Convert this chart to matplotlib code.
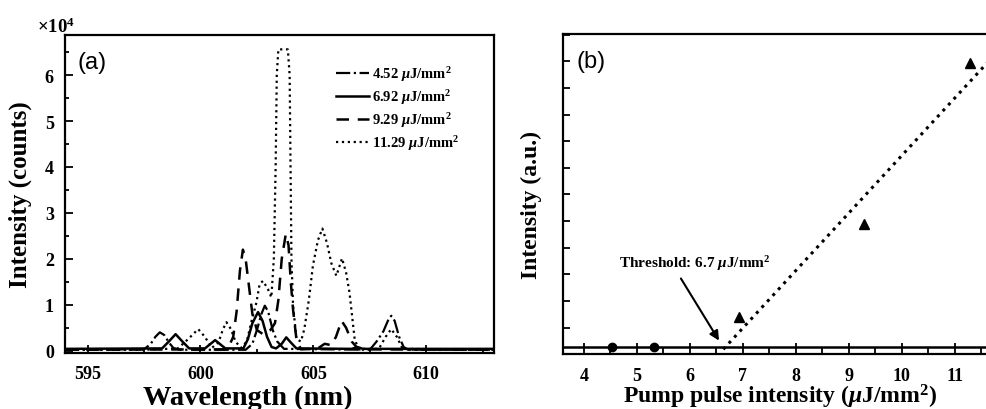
import matplotlib
matplotlib.use("Agg")
import matplotlib.pyplot as plt
from matplotlib.ticker import MultipleLocator, FixedLocator, NullFormatter

plt.rcParams['font.family'] = 'Liberation Serif'
plt.rcParams['font.weight'] = 'bold'
plt.rcParams['axes.labelweight'] = 'bold'
plt.rcParams['mathtext.fontset'] = 'custom'
plt.rcParams['mathtext.rm'] = 'Liberation Serif:bold'
plt.rcParams['mathtext.it'] = 'Liberation Serif:italic:bold'
plt.rcParams['mathtext.bf'] = 'Liberation Serif:bold'

# ---- panel (a): emission spectra, intensity in units of 1e4 counts ----
wl_452 = [594, 597.5, 597.8, 598.0, 598.2, 598.4, 598.6, 598.8, 599.1, 602.0, 602.3,
          602.5, 602.7, 602.85, 603.0, 603.2, 603.4, 603.7, 607.5, 607.8, 608.1, 608.3,
          608.45, 608.6, 608.8, 609.0, 609.2, 613]
int_452 = [0.02, 0.03, 0.15, 0.3, 0.4, 0.34, 0.18, 0.06, 0.02, 0.02, 0.15,
           0.45, 0.8, 0.98, 0.85, 0.45, 0.2, 0.04, 0.02, 0.2, 0.42, 0.65,
           0.76, 0.65, 0.3, 0.08, 0.02, 0.02]

wl_692 = [594, 598.3, 598.6, 598.9, 599.2, 599.5, 600.2, 600.45, 600.65, 600.85, 601.1,
          601.9, 602.1, 602.3, 602.55, 602.75, 602.95, 603.15, 603.35, 603.6, 603.8,
          604.0, 604.25, 606.7, 606.95, 607.2, 613]
int_692 = [0.04, 0.05, 0.2, 0.36, 0.2, 0.05, 0.05, 0.15, 0.23, 0.15, 0.05,
           0.05, 0.25, 0.6, 0.84, 0.65, 0.3, 0.08, 0.05, 0.15, 0.29,
           0.18, 0.05, 0.04, 0.08, 0.04, 0.04]

wl_929 = [594, 601.2, 601.45, 601.6, 601.75, 601.88, 602.0, 602.15, 602.3, 602.5, 602.8,
          603.1, 603.3, 603.45, 603.6, 603.78, 603.9, 604.0, 604.1, 604.25, 604.45,
          605.2, 605.5, 605.8, 606.0, 606.25, 606.45, 606.7, 607.0, 613]
int_929 = [0.02, 0.03, 0.3, 0.85, 1.75, 2.2, 2.0, 1.4, 0.8, 0.45, 0.35,
           0.45, 0.6, 1.1, 2.0, 2.54, 2.3, 1.5, 0.9, 0.25, 0.03,
           0.05, 0.15, 0.12, 0.3, 0.65, 0.5, 0.2, 0.03, 0.02]

wl_1129 = [594, 597.5, 599.0, 599.45, 599.9, 600.2, 600.5, 600.8, 601.0, 601.15, 601.35,
           601.55, 601.8, 602.05, 602.25, 602.48, 602.62, 602.77, 602.99, 603.14, 603.25,
           603.33, 603.38, 603.45, 603.87, 603.95, 603.99, 604.03, 604.1, 604.25, 604.45,
           604.6, 604.8, 604.98, 605.2, 605.4, 605.6, 605.8, 606.02, 606.27, 606.45,
           606.6, 606.83, 607.0, 607.9, 608.2, 608.45, 608.7, 608.95, 613]
int_1129 = [0.02, 0.02, 0.05, 0.25, 0.47, 0.3, 0.06, 0.18, 0.47, 0.62, 0.47,
            0.2, 0.06, 0.2, 0.62, 1.05, 1.45, 1.52, 1.34, 1.16, 2.0,
            4.0, 6.0, 6.56, 6.56, 6.0, 4.0, 2.0, 1.0, 0.25, 0.2,
            0.47, 1.1, 1.85, 2.4, 2.66, 2.35, 1.9, 1.63, 2.01, 1.7,
            1.27, 0.25, 0.04, 0.04, 0.3, 0.47, 0.3, 0.04, 0.02]

labels_a = [r'4.52 $\mu$J/mm$^2$', r'6.92 $\mu$J/mm$^2$',
            r'9.29 $\mu$J/mm$^2$', r'11.29 $\mu$J/mm$^2$']

# ---- panel (b): output intensity vs pump (a.u.) ----
pump_below = [4.52, 5.32]
out_below = [0.28, 0.28]
pump_above = [6.92, 9.29, 11.29]
out_above = [1.42, 4.88, 10.92]
fit_x = [6.63, 12.0]
fit_slope = 2.156
fit_x0 = 6.54
fit_y = [fit_slope * (x - fit_x0) for x in fit_x]
floor_level = 0.28
pump_ticks = [4, 5, 6, 7, 8, 9, 10, 11]

fig = plt.figure(figsize=(9.86, 4.10), dpi=100)

# panel (a)
ax = fig.add_axes([0.0659, 0.1366, 0.4351, 0.7764])
ax.plot(wl_452, int_452, color='black', lw=1.6, linestyle='-.', label=labels_a[0])
ax.plot(wl_692, int_692, color='black', lw=1.8, linestyle='-', label=labels_a[1])
ax.plot(wl_929, int_929, color='black', lw=1.8, linestyle=(0, (5, 3.5)), label=labels_a[2])
ax.plot(wl_1129, int_1129, color='black', lw=1.6, linestyle=':', label=labels_a[3])
ax.set_xlim(594, 613)
ax.set_ylim(-0.05, 6.88)
ax.xaxis.set_major_locator(MultipleLocator(5))
ax.xaxis.set_minor_locator(MultipleLocator(2.5))
ax.yaxis.set_major_locator(MultipleLocator(1))
ax.yaxis.set_minor_locator(MultipleLocator(0.5))
ax.tick_params(which='both', direction='in', labelsize=13, width=1.3)
ax.tick_params(which='major', length=6)
ax.tick_params(which='minor', length=3)
ax.tick_params(axis='x', pad=9)
ax.tick_params(axis='y', pad=8)
for sp in ax.spines.values():
    sp.set_linewidth(1.6)
ax.set_xlabel('Wavelength (nm)', fontsize=20.5)
ax.xaxis.set_label_coords(0.425, -0.1)
ax.set_ylabel('Intensity (counts)', fontsize=18)
ax.yaxis.set_label_coords(-0.077, 0.5)
ax.text(-0.065, 0.995, r'$\times$10$^4$', transform=ax.transAxes, fontsize=13.5,
        ha='left', va='bottom')
ax.text(0.03, 0.95, '(a)', transform=ax.transAxes, fontsize=17, fontweight='normal',
        family='Liberation Sans', ha='left', va='top')
ax.legend(loc='upper left', bbox_to_anchor=(0.6, 0.95), frameon=False, fontsize=10.5,
          handlelength=2.3, handletextpad=0.2, labelspacing=0.3)

# panel (b)
bx = fig.add_axes([0.571, 0.133, 0.451, 0.7823])
bx.plot([3.6, 12.0], [floor_level, floor_level], color='black', lw=1.8)
bx.plot(pump_below, out_below, 'o', color='black', ms=6)
bx.plot(pump_above, out_above, '^', color='black', ms=7)
bx.plot(fit_x, fit_y, color='black', lw=2.2, linestyle=':')
bx.set_xlim(3.604, 12.0)
bx.set_ylim(0, 12.03)
bx.xaxis.set_major_locator(FixedLocator(pump_ticks))
bx.xaxis.set_minor_locator(MultipleLocator(0.5))
bx.yaxis.set_major_locator(MultipleLocator(1))
bx.yaxis.set_major_formatter(NullFormatter())
bx.tick_params(which='both', direction='in', labelsize=13, width=1.3)
bx.tick_params(axis='x', which='major', length=8)
bx.tick_params(axis='x', which='minor', length=4)
bx.tick_params(axis='x', pad=9)
bx.tick_params(axis='y', which='major', length=5)
for sp in bx.spines.values():
    sp.set_linewidth(1.6)
bx.set_xlabel(r'Pump pulse intensity ($\mu$J/mm$^2$)', fontsize=17)
bx.xaxis.set_label_coords(0.488, -0.086)
bx.set_ylabel('Intensity (a.u.)', fontsize=17)
bx.yaxis.set_label_coords(-0.047, 0.47)
bx.text(0.03, 0.95, '(b)', transform=bx.transAxes, fontsize=17, fontweight='normal',
        family='Liberation Sans', ha='left', va='top')
bx.text(6.09, 3.45, r'Threshold: 6.7 $\mu$J/mm$^2$', fontsize=11, ha='center', va='center')
bx.annotate('', xy=(6.55, 0.52), xytext=(5.83, 2.85),
            arrowprops=dict(arrowstyle='-|>', color='black', lw=1.5,
                            mutation_scale=14, shrinkA=0, shrinkB=0))

for a in (ax, bx):
    for lab in a.get_xticklabels() + a.get_yticklabels():
        lab.set_fontweight('bold')

fig.savefig('out.png', dpi=100)
